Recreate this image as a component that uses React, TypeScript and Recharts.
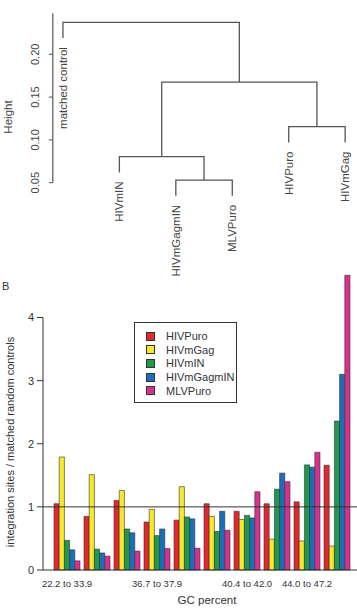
import {
  ComposedChart,
  BarChart,
  Bar,
  Line,
  Scatter,
  XAxis,
  YAxis,
  ReferenceLine,
} from "recharts";

// ---- A: clustering of integration-site profiles ----
const leafNames = ["matched control", "HIVmIN", "HIVmGagmIN", "MLVPuro", "HIVPuro", "HIVmGag"];
// hclust-style merge table: negative = leaf (1-based), positive = earlier merge (1-based)
const merges: [number, number][] = [
  [-3, -4],
  [-2, 1],
  [-5, -6],
  [2, 3],
  [-1, 4],
];
const mergeHeights = [0.0531, 0.0804, 0.1154, 0.1676, 0.2374];
const leafHang = 0.0185;
const heightTicks = [0.05, 0.1, 0.15, 0.2];

// ---- B: integration frequency by GC percent bin ----
const gcTickLabels = [
  "22.2 to 33.9",
  "",
  "",
  "36.7 to 37.9",
  "",
  "",
  "40.4 to 42.0",
  "",
  "44.0 to 47.2",
  "",
];
const hivPuro = [1.05, 0.85, 1.1, 0.76, 0.79, 1.05, 0.93, 1.05, 1.08, 1.66];
const hivMGag = [1.79, 1.51, 1.26, 0.96, 1.32, 0.85, 0.8, 0.49, 0.46, 0.38];
const hivMIN = [0.47, 0.33, 0.65, 0.545, 0.84, 0.61, 0.865, 1.28, 1.665, 2.36];
const hivMGagMIN = [0.32, 0.27, 0.59, 0.65, 0.81, 0.93, 0.825, 1.535, 1.63, 3.1];
const mlvPuro = [0.145, 0.22, 0.3, 0.34, 0.345, 0.63, 1.24, 1.4, 1.865, 4.67];
const ratioTicks = [0, 1, 2, 3, 4];

const series = [
  { name: "HIVPuro", values: hivPuro, color: "#e2282c" },
  { name: "HIVmGag", values: hivMGag, color: "#f7e92c" },
  { name: "HIVmIN", values: hivMIN, color: "#1e9b4a" },
  { name: "HIVmGagmIN", values: hivMGagMIN, color: "#1b6fba" },
  { name: "MLVPuro", values: mlvPuro, color: "#d6318d" },
];

const FONT = '"Liberation Sans", Arial, sans-serif';

type Pt = { x: number; y: number };

// walk the merge table to get node positions and the U-shaped links
const nodeX: number[] = [];
const links: Pt[][] = [];
const leafEnds: (Pt & { name: string })[] = [];
merges.forEach(([a, b], k) => {
  const h = mergeHeights[k];
  const ends = [a, b].map((c) => {
    if (c < 0) {
      const p = { x: -c, y: h - leafHang };
      leafEnds.push({ ...p, name: leafNames[-c - 1] });
      return p;
    }
    return { x: nodeX[c - 1], y: mergeHeights[c - 1] };
  });
  nodeX.push((ends[0].x + ends[1].x) / 2);
  links.push([ends[0], { x: ends[0].x, y: h }, { x: ends[1].x, y: h }, ends[1]]);
});

const gcRows = gcTickLabels.map((_, i) => {
  const row: Record<string, number> = { bin: i };
  series.forEach((s) => {
    row[s.name] = s.values[i];
  });
  return row;
});

const HeightTick = (props: any) => {
  const { x, y, payload } = props;
  return (
    <text
      transform={`translate(${x - 8},${y}) rotate(-90)`}
      textAnchor="middle"
      fontSize={11}
      fontFamily={FONT}
      fill="#444"
    >
      {Number(payload.value).toFixed(2)}
    </text>
  );
};

const LeafLabel = (props: any) => {
  const { cx, cy } = props;
  const name = props.payload?.name ?? props.name;
  return (
    <text
      transform={`translate(${cx + 4},${cy + 9}) rotate(-90)`}
      textAnchor="end"
      fontSize={11.5}
      fontFamily={FONT}
      fill="#444"
    >
      {name}
    </text>
  );
};

const GcTick = (props: any) => {
  const { x, y, payload } = props;
  const text = gcTickLabels[payload.value];
  if (!text) return <g />;
  return (
    <text x={x} y={y + 9} textAnchor="middle" fontSize={9.5} fontFamily={FONT} fill="#333">
      {text}
    </text>
  );
};

// the svg is taller than panel A so the hanging leaf labels are not cut
function Dendrogram() {
  return (
    <ComposedChart
      width={357}
      height={280}
      margin={{ top: 11.5, right: 0, bottom: 80.2, left: 0 }}
    >
      <XAxis type="number" dataKey="x" domain={[0.82, 6.21]} hide />
      <YAxis
        type="number"
        dataKey="y"
        domain={[0.03, 0.25]}
        ticks={heightTicks}
        width={52.8}
        axisLine={false}
        tickSize={4}
        tickLine={{ stroke: "#555" }}
        tick={<HeightTick />}
        label={{
          content: () => (
            <text
              transform="translate(12,117) rotate(-90)"
              textAnchor="middle"
              fontSize={11.5}
              fontFamily={FONT}
              fill="#444"
            >
              Height
            </text>
          ),
        }}
      />
      <ReferenceLine
        segment={[
          { x: 0.82, y: 0.05 },
          { x: 0.82, y: 0.248 },
        ]}
        stroke="#555"
        strokeWidth={1.2}
      />
      {links.map((pts, i) => (
        <Line
          key={i}
          data={pts}
          dataKey="y"
          type="linear"
          stroke="#555"
          strokeWidth={1.3}
          dot={false}
          activeDot={false}
          isAnimationActive={false}
        />
      ))}
      <Scatter data={leafEnds} dataKey="y" shape={<LeafLabel />} isAnimationActive={false} />
    </ComposedChart>
  );
}

function GcBars() {
  return (
    <BarChart
      width={357}
      height={368}
      data={gcRows}
      margin={{ top: 27, right: 0, bottom: 8, left: 0 }}
      barGap={0}
      barCategoryGap={2}
    >
      <XAxis
        dataKey="bin"
        padding={{ left: 9, right: 5 }}
        axisLine={false}
        tickLine={false}
        interval={0}
        height={30}
        tick={<GcTick />}
        label={{
          content: () => (
            <text x={207} y={364} textAnchor="middle" fontSize={11.5} fontFamily={FONT} fill="#333">
              GC percent
            </text>
          ),
        }}
      />
      <XAxis xAxisId="frame" type="number" domain={[0, 1]} allowDataOverflow hide />
      <YAxis
        domain={[0, 4.8]}
        ticks={ratioTicks}
        width={43}
        axisLine={false}
        tickSize={6}
        tickMargin={3}
        tickLine={{ stroke: "#333" }}
        tick={{ fill: "#333", fontSize: 11, fontFamily: FONT }}
        label={{
          content: () => (
            <text
              transform="translate(14,202) rotate(-90)"
              textAnchor="middle"
              fontSize={11}
              fontFamily={FONT}
              fill="#333"
            >
              integration sites / matched random controls
            </text>
          ),
        }}
      />
      <ReferenceLine
        xAxisId="frame"
        segment={[
          { x: 0, y: 0 },
          { x: 0, y: 4 },
        ]}
        stroke="#333"
      />
      <ReferenceLine y={0} stroke="#333" />
      <ReferenceLine y={1} stroke="#333" />
      {series.map((s) => (
        <Bar
          key={s.name}
          dataKey={s.name}
          fill={s.color}
          stroke="#333"
          strokeWidth={0.6}
          barSize={5.2}
          isAnimationActive={false}
        />
      ))}
    </BarChart>
  );
}

function BarLegend() {
  return (
    <div
      style={{
        position: "absolute",
        left: 134,
        top: 322,
        width: 103,
        height: 81,
        boxSizing: "border-box",
        border: "1px solid #333",
        background: "#fff",
        fontFamily: FONT,
        fontSize: 11,
        color: "#333",
      }}
    >
      {series.map((s, i) => (
        <div
          key={s.name}
          style={{
            position: "absolute",
            left: 11,
            top: 6.2 + i * 13.7,
            height: 13.7,
            display: "flex",
            alignItems: "center",
            whiteSpace: "nowrap",
          }}
        >
          <span
            style={{
              width: 7,
              height: 7,
              background: s.color,
              border: "0.6px solid #333",
              marginRight: 11,
              display: "inline-block",
            }}
          />
          {s.name}
        </div>
      ))}
    </div>
  );
}

export default function App() {
  return (
    <div
      style={{
        position: "absolute",
        left: 0,
        top: 0,
        width: 357,
        height: 608,
        background: "#fff",
        overflow: "hidden",
      }}
    >
      <div style={{ position: "absolute", left: 0, top: 240 }}>
        <GcBars />
      </div>
      <div style={{ position: "absolute", left: 0, top: 0 }}>
        <Dendrogram />
      </div>
      <div
        style={{
          position: "absolute",
          left: 2,
          top: 281,
          fontFamily: FONT,
          fontSize: 11,
          lineHeight: "11px",
          color: "#333",
        }}
      >
        B
      </div>
      <BarLegend />
    </div>
  );
}
